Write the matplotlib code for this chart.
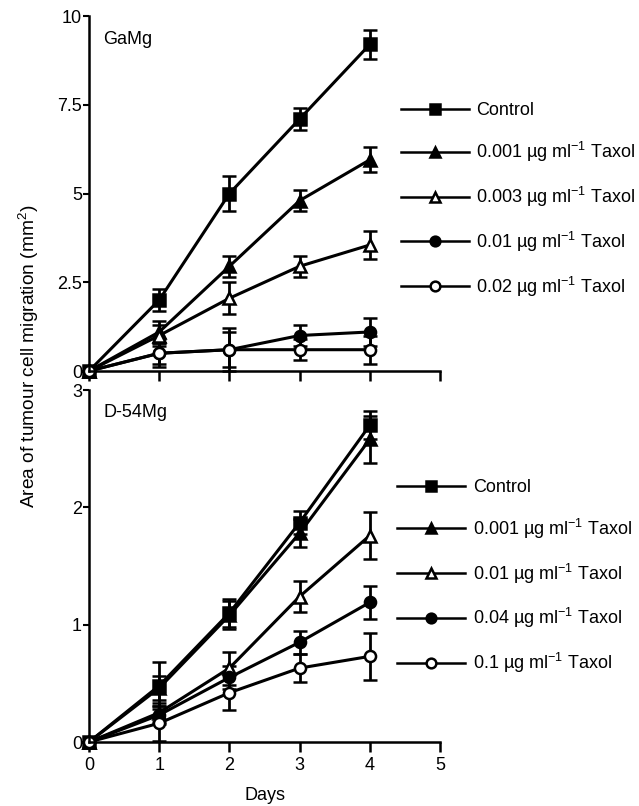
import matplotlib
matplotlib.use("Agg")
import matplotlib.pyplot as plt
from matplotlib.lines import Line2D

plt.rcParams['font.family'] = ['Liberation Sans', 'DejaVu Sans']
plt.rcParams['mathtext.default'] = 'regular'

days = [0, 1, 2, 3, 4]

# GaMg panel
gamg_labels = ["Control",
               "0.001 µg ml$^{-1}$ Taxol",
               "0.003 µg ml$^{-1}$ Taxol",
               "0.01 µg ml$^{-1}$ Taxol",
               "0.02 µg ml$^{-1}$ Taxol"]
gamg_vals = [[0, 2.0, 5.0, 7.1, 9.2],
             [0, 1.1, 2.95, 4.8, 5.95],
             [0, 1.0, 2.05, 2.95, 3.55],
             [0, 0.5, 0.6, 1.0, 1.1],
             [0, 0.5, 0.6, 0.6, 0.6]]
gamg_err = [[0, 0.3, 0.5, 0.3, 0.4],
            [0, 0.3, 0.3, 0.3, 0.35],
            [0, 0.3, 0.45, 0.3, 0.4],
            [0, 0.4, 0.5, 0.3, 0.4],
            [0, 0.3, 0.6, 0.3, 0.4]]

# D-54Mg panel
d54_labels = ["Control",
              "0.001 µg ml$^{-1}$ Taxol",
              "0.01 µg ml$^{-1}$ Taxol",
              "0.04 µg ml$^{-1}$ Taxol",
              "0.1 µg ml$^{-1}$ Taxol"]
d54_vals = [[0, 0.48, 1.1, 1.87, 2.7],
            [0, 0.46, 1.08, 1.78, 2.58],
            [0, 0.25, 0.63, 1.24, 1.76],
            [0, 0.23, 0.55, 0.85, 1.19],
            [0, 0.16, 0.42, 0.63, 0.73]]
d54_err = [[0, 0.2, 0.12, 0.1, 0.12],
           [0, 0.1, 0.12, 0.12, 0.2],
           [0, 0.08, 0.14, 0.13, 0.2],
           [0, 0.08, 0.1, 0.1, 0.14],
           [0, 0.15, 0.15, 0.12, 0.2]]

styles = [('s', 'black'), ('^', 'black'), ('^', 'white'), ('o', 'black'), ('o', 'white')]
FS = 13

fig = plt.figure(figsize=(6.39, 8.06), dpi=100)
ax1 = fig.add_axes([0.1393, 0.5397, 0.5493, 0.4404])
ax2 = fig.add_axes([0.1393, 0.0794, 0.5493, 0.4367])


def draw(ax, vals, errs, labels, ymax, yticks, yticklabels, name):
    handles = []
    for v, e, lab, (m, fc) in zip(vals, errs, labels, styles):
        h = ax.errorbar(days, v, yerr=e, color='black', lw=2.2, marker=m,
                        markersize=8, markerfacecolor=fc, markeredgecolor='black',
                        markeredgewidth=1.8, capsize=5, capthick=2,
                        elinewidth=2, clip_on=False)
        for art in h.lines[1] + h.lines[2]:
            art.set_clip_on(False)
        handles.append(Line2D([], [], color='black', lw=1.8, marker=m, markersize=7,
                              markerfacecolor=fc, markeredgecolor='black',
                              markeredgewidth=1.8, label=lab))
    ax.set_xlim(0, 5)
    ax.set_ylim(0, ymax)
    ax.set_yticks(yticks)
    ax.set_yticklabels(yticklabels)
    ax.set_xticks([0, 1, 2, 3, 4, 5])
    for s in ['top', 'right']:
        ax.spines[s].set_visible(False)
    for s in ['left', 'bottom']:
        ax.spines[s].set_linewidth(1.8)
    ax.tick_params(axis='x', direction='out', length=7, width=1.8, labelsize=FS)
    ax.tick_params(axis='y', direction='out', length=4, width=1.5, pad=1, labelsize=FS)
    ax.text(0.04, 0.935, name, transform=ax.transAxes, fontsize=FS, va='center', ha='left')
    return handles


h1 = draw(ax1, gamg_vals, gamg_err, gamg_labels, 10, [0, 2.5, 5, 7.5, 10],
          ['0', '2.5', '5', '7.5', '10'], 'GaMg')
ax1.tick_params(axis='x', labelbottom=False)
h2 = draw(ax2, d54_vals, d54_err, d54_labels, 3, [0, 1, 2, 3],
          ['0', '1', '2', '3'], 'D-54Mg')
ax2.set_xlabel('Days', fontsize=FS, labelpad=10)

leg_kw = dict(frameon=False, handlelength=3.8, handletextpad=0.4,
              labelspacing=1.15, fontsize=FS, borderpad=0, borderaxespad=0,
              loc='center left', bbox_transform=fig.transFigure)
ax1.legend(handles=h1, bbox_to_anchor=(0.627, 0.7513), **leg_kw)
ax2.legend(handles=h2, bbox_to_anchor=(0.621, 0.284), **leg_kw)

fig.text(0.045, 0.558, 'Area of tumour cell migration (mm$^2$)', rotation=90,
         ha='center', va='center', fontsize=13.8)

fig.savefig('out.png', dpi=100)
